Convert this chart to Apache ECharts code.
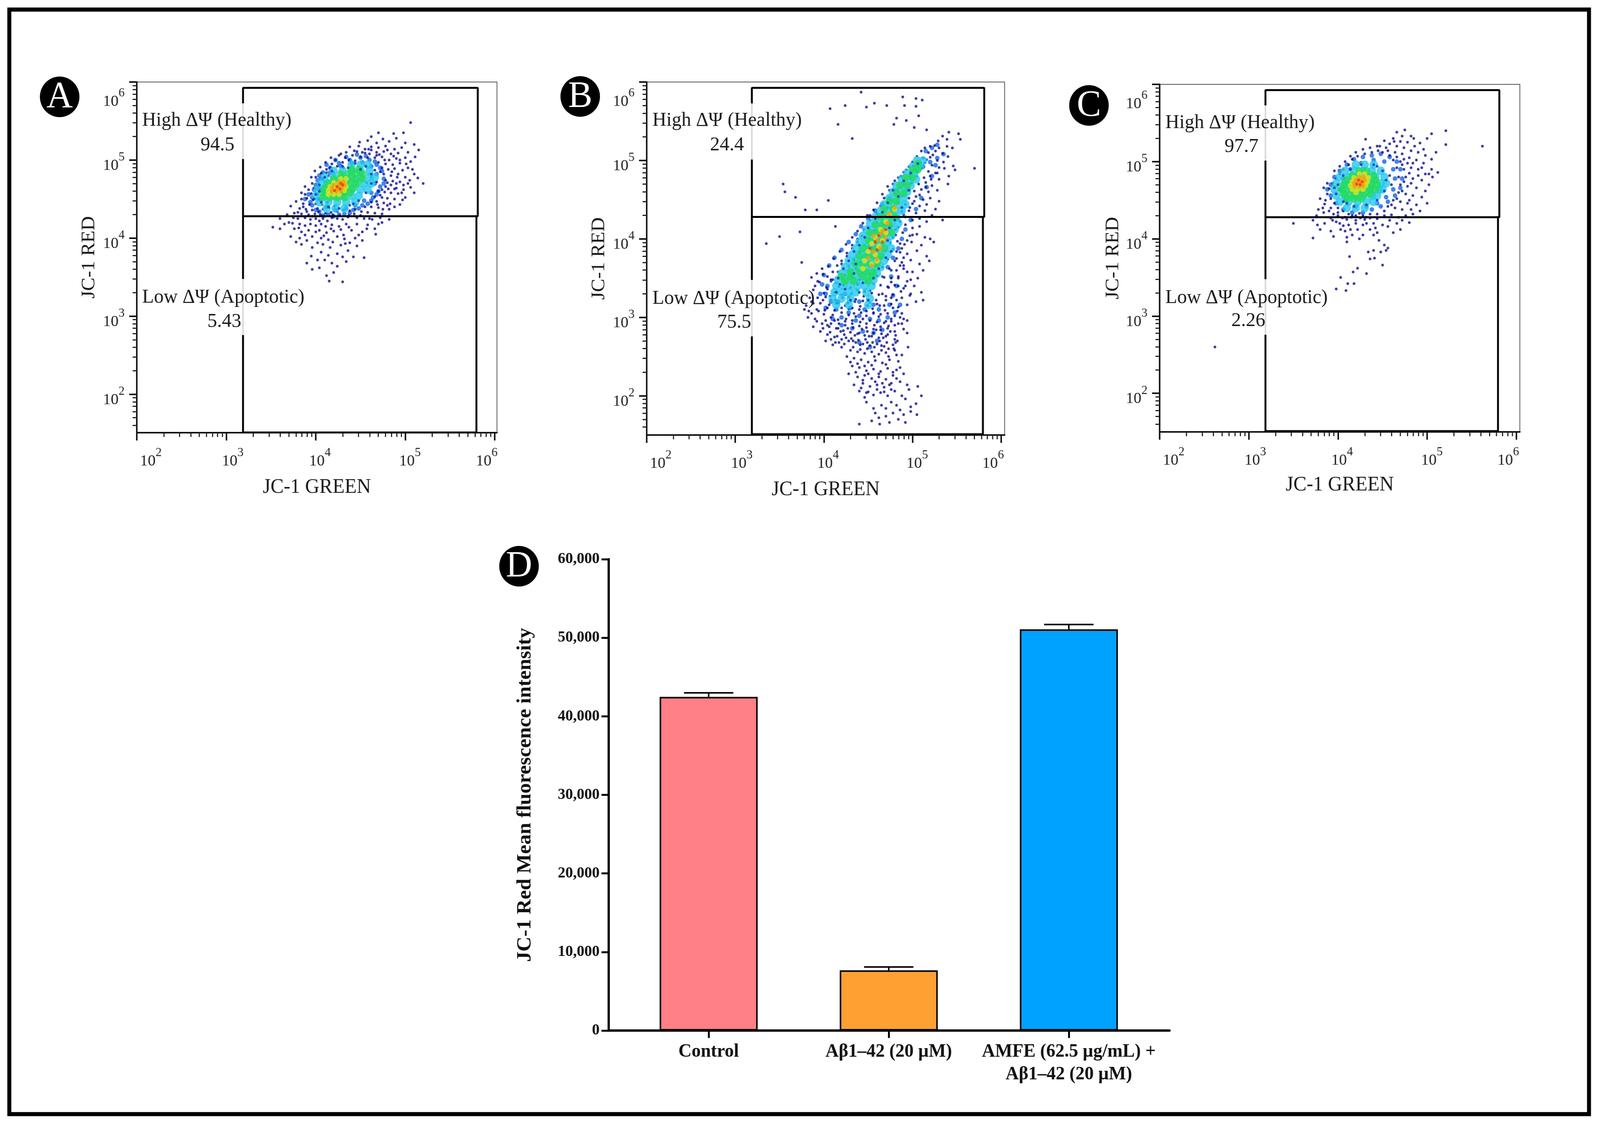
<!DOCTYPE html>
<html><head><meta charset="utf-8">
<style>html,body{margin:0;padding:0;background:#fff;overflow:hidden}#c{width:4211px;height:2886px;transform-origin:0 0}</style>
<script src="https://cdn.jsdelivr.net/npm/echarts@6/dist/echarts.min.js"></script>
</head><body><div id="c"></div>
<script>
// Flow-cytometry events: flat x,y pairs, in units of log10(intensity) x 100.
const aDark=[506,548,498,535,487,534,470,535,462,530,475,527,490,528,482,524,468,522,458,525,500,522,510,520,496,516,488,514,478,518,470,516,462,517,455,514,448,518,443,512,452,510,460,508,468,510,476,511,484,508,492,509,503,510,515,513,511,504,500,503,490,502,482,500,474,504,466,503,458,503,450,504,441,506,433,503,428,508,422,500,418,495,430,497,437,500,444,499,470,497,478,495,486,494,494,496,506,498,412,488,406,483,416,490,424,492,431,490,474,490,481,488,488,489,497,487,503,490,400,478,408,476,414,480,420,484,476,482,484,480,492,482,500,478,510,482,396,470,403,470,410,472,478,474,486,473,494,472,503,470,392,462,398,464,405,463,478,466,484,468,490,464,498,462,506,465,388,456,395,457,402,456,408,459,470,460,477,459,484,458,492,457,384,450,390,451,397,449,404,450,466,453,472,455,480,451,488,450,500,452,378,447,386,444,393,443,400,444,407,443,413,446,462,446,468,447,476,445,483,444,494,443,372,441,382,438,389,437,396,436,402,438,408,437,415,439,421,441,455,440,462,440,470,439,482,437,376,432,384,431,392,430,399,431,405,430,411,432,417,433,424,434,431,436,438,435,444,437,451,434,458,433,466,432,474,431,380,425,388,426,394,424,400,425,404,422,408,425,413,422,418,426,424,425,430,424,436,427,446,426,454,425,463,424,472,426,482,424,370,420,382,418,388,416,394,418,400,416,406,418,411,415,418,417,426,415,434,418,446,418,458,417,470,418,360,412,376,412,384,408,392,410,404,410,412,407,420,409,428,411,440,410,452,408,466,412,372,402,382,400,396,402,406,400,414,398,424,402,432,399,444,400,384,392,396,388,408,392,416,388,428,391,438,394,446,390,406,382,414,378,424,380,436,384,442,376,454,375,390,368,396,360,410,372,424,364,434,370,412,352,420,356,430,344,
395,478,388,466,384,458,399,486,405,491,411,497,417,503,426,506,434,510,446,511,455,509,462,513,471,507,480,513,487,505,494,500,501,495,508,488,514,477,505,474,498,468,491,478,485,485,477,500,468,506,459,514,449,523,438,517,480,471,474,462,468,472,472,485,466,487,462,478,457,471,490,470,496,458,488,463,481,463,474,452,469,443,475,437,488,440,497,449,510,458,520,470,480,442,460,425,450,429,443,431,437,429,427,429,419,430,410,428,403,434,396,428,390,434,386,440,380,433,375,426,368,430,360,425,365,418,352,414,374,419,381,413,388,404,400,408,409,403,417,412,431,404,437,414,448,404,457,412,474,420,467,405,378,395,390,397,402,394,419,395,433,393,452,397,395,377,402,372,418,368,430,376,404,362,415,345];
const aBlue=[398,462,402,474,408,484,416,490,426,496,438,500,450,503,460,500,468,494,474,486,476,476,472,466,468,456,462,448,452,442,442,436,432,431,420,428,408,429,400,436,394,446,392,456,412,440,422,436,434,438,444,442,454,448,462,458,466,470,468,482,462,492,452,497,440,496,428,492,416,484,406,476,402,464,403,450,396,452,400,468,404,480,412,494,422,500,434,504,446,507,456,505,466,498,472,490,476,470,470,460,464,452,458,444,448,438,438,432,426,430,414,430,404,434,396,442,388,450];
const aCyan=[440,494,450,494,458,494,420,486,430,486,440,486,450,486,460,486,410,478,420,478,430,478,440,478,450,478,460,478,466,478,406,470,414,470,424,470,434,470,444,470,454,470,462,470,402,462,410,462,420,462,430,462,440,462,450,462,458,462,400,454,410,454,420,454,430,454,440,454,448,454,404,446,414,446,424,446,434,446,444,446,412,438,422,438,432,438];
const aGreen=[440,488,448,488,428,482,436,482,444,482,452,482,420,476,428,476,436,476,444,476,452,476,414,470,422,470,430,470,438,470,446,470,410,464,418,464,426,464,434,464,442,464,408,458,416,458,424,458,432,458,438,458,408,452,416,452,424,452,432,452];
const aFleck=[400,456,404,468,410,478,418,486,430,492,444,496,456,492,462,482,462,470,456,458,448,448,438,442,426,438,414,440,406,446,398,450,436,490,450,488,404,460,442,444,412,484];
const aYellow=[428,476,434,476,420,471,426,471,432,471,416,466,422,466,428,466,434,466,414,461,420,461,426,461,432,461,414,456,420,456,426,456];
const aOrange=[426,472,431,472,420,468,426,468,432,468,418,464,424,464,429,464,418,460,423,460,428,460];
const aRed=[428,470,424,466,427,463,430,468,421,461];

const bDark=[442,587,407,566,424,570,448,568,457,573,471,570,489,581,504,579,511,577,491,570,504,569,507,557,482,554,493,551,479,546,416,546,502,542,516,539,432,528,354,470,356,460,368,453,405,449,379,437,392,437,373,409,350,403,335,394,413,416,375,370,386,351,570,490,546,493,541,480,554,527,541,536,552,534,539,527,534,531,529,525,525,519,520,518,514,516,539,518,545,516,510,512,518,510,526,512,534,509,540,505,505,505,512,503,520,504,528,500,535,498,500,498,507,496,514,497,522,494,530,491,548,488,496,492,503,488,510,490,518,486,526,484,490,485,497,482,505,480,513,478,520,480,530,476,540,470,484,478,491,474,499,471,507,470,515,472,522,468,478,470,486,466,494,462,502,461,510,463,518,460,528,462,474,462,480,458,488,455,496,452,504,454,512,450,520,452,530,448,468,452,476,449,484,446,492,444,500,445,508,442,516,444,526,438,464,442,472,440,480,437,488,435,496,436,504,433,514,436,522,430,460,432,468,430,476,427,484,425,492,428,500,424,508,426,516,422,534,424,452,424,460,421,468,419,476,417,484,415,492,418,500,414,508,416,450,414,457,411,465,409,473,407,481,405,489,408,497,404,505,406,514,402,524,396,443,404,451,401,459,399,467,397,475,395,483,397,491,393,499,396,510,392,520,400,438,396,446,392,454,390,462,387,470,385,478,387,486,383,494,381,505,385,516,378,432,388,440,383,448,380,456,378,464,376,472,374,480,372,488,370,498,373,508,368,519,372,426,378,434,374,442,371,450,368,458,366,466,364,474,362,482,360,490,362,500,358,512,360,420,368,428,365,436,362,444,358,452,356,460,353,468,351,476,350,484,352,494,346,506,350,416,358,424,354,432,351,440,348,448,346,456,343,464,341,472,339,480,341,490,337,502,340,510,332,408,348,414,344,422,341,430,338,438,335,446,333,454,331,462,329,470,327,478,329,488,325,497,328,512,322,404,336,412,332,420,329,428,326,436,323,444,321,452,319,460,317,468,315,476,317,484,313,494,316,402,326,408,322,416,318,424,315,432,312,440,310,448,308,456,306,464,304,472,305,480,302,488,305,396,318,404,312,412,309,420,306,428,303,436,301,444,298,452,296,460,294,468,293,476,295,484,292,494,296,392,310,400,304,408,300,416,297,424,295,432,292,440,289,448,287,456,285,464,284,472,286,480,282,490,285,390,298,398,292,406,288,414,286,422,283,430,281,438,279,446,277,454,276,462,274,470,276,480,272,396,282,404,278,412,275,420,272,428,270,436,268,444,266,452,264,460,266,468,263,478,265,402,270,410,265,420,262,430,258,438,256,446,254,454,256,462,253,470,255,480,258,488,252,426,250,434,248,442,246,450,243,458,245,466,242,474,246,484,244,432,238,440,236,448,232,456,234,464,231,472,235,482,233,428,228,438,224,446,226,454,222,462,224,470,221,478,226,490,228,434,214,444,216,452,212,460,214,468,211,476,216,486,218,448,204,456,201,464,204,472,200,480,206,496,208,506,212,504,190,492,196,476,192,465,188,456,184,446,198,440,206,478,178,486,182,498,180,505,176,462,172,470,174,454,168,440,164,463,164,484,170,492,166,
530,516,523,507,516,501,509,497,501,493,493,488,487,480,480,474,472,467,466,457,460,446,456,437,449,430,444,420,438,410,432,402,425,393,418,384,411,375,405,365,399,355,393,346,388,335,384,325,380,315,386,305,392,295,536,490,528,484,521,476,515,466,508,456,502,448,497,440,490,431,486,422,481,412,478,402,486,394,482,384,490,376,486,366,494,358,498,348,492,340,498,330,504,320,487,333,482,322,476,325,470,322,403,338,410,348,417,339,424,345,431,330,438,342,445,327,452,334,459,322,466,330,473,338,399,322,406,316,413,322,420,312,427,318,434,305,441,314,448,302,455,311,462,301,469,309,476,298,483,308,490,298,394,308,402,296,410,303,417,292,425,298,433,287,441,294,449,282,457,290,465,279,473,289,481,277,488,292,399,286,407,281,415,276,423,278,431,273,439,271,447,272,455,268,463,270,471,268,479,260,413,268,423,266,433,262,441,259,449,260,457,250,465,258,473,250,482,252,495,262,430,243,438,241,446,238,454,239,462,228,470,240,478,230,486,236,436,230,444,220,450,228,458,218,466,216,474,214,482,222,494,214,442,210,450,205,460,208,468,205,476,208,488,200,498,186,510,200,448,192,458,178,470,184,482,188,490,176,474,166,
395,345,390,340,400,331,407,327,414,318,421,325,428,311,435,320,442,306,449,315,456,305,463,315,470,295,478,312,486,300,393,325,388,318,383,308,401,309,408,292,416,286,424,290,432,296,440,280,448,292,456,280,464,288,472,278,480,290,494,280,404,290,412,296,419,282,427,286,435,277,443,285,451,276,459,284,467,274,475,282,483,270,408,272,417,268,425,274,433,270,441,265,449,268,457,262,465,264,473,260,481,268,476,345,484,350,490,366,482,375,488,388,494,398,500,405,476,360,484,340,398,362,404,352,392,356,410,358,415,366,420,372,426,382,432,392,438,400,445,412,452,430,386,320,382,300,378,310,388,288];
const bBlue=[528,520,522,516,515,512,535,508,528,503,520,498,512,492,505,486,498,478,490,470,482,462,474,452,466,444,458,436,450,426,442,416,436,406,428,396,420,386,412,376,406,366,400,354,398,342,402,330,408,320,414,310,428,306,440,302,452,298,462,296,472,300,480,306,486,316,478,328,482,340,476,352,472,364,478,376,484,388,488,400,492,412,498,424,504,438,510,452,516,466,522,480,526,494,410,298,420,290,432,286,444,282,456,280,466,284,440,268,452,262,460,270,424,330,440,320,456,316,416,320,430,312,446,310,462,310,474,316,404,340,396,330,402,312,420,300,436,296];
const bCyan=[505,500,512,500,500,492,508,492,494,484,502,484,488,476,496,476,504,476,482,468,490,468,498,468,478,460,486,460,494,460,474,452,482,452,490,452,468,444,476,444,484,444,492,444,464,436,472,436,480,436,488,436,458,428,466,428,474,428,482,428,452,420,460,420,468,420,476,420,484,420,448,412,456,412,464,412,472,412,480,412,444,404,452,404,460,404,468,404,476,404,440,396,448,396,456,396,464,396,472,396,436,388,444,388,452,388,460,388,468,388,476,388,432,380,440,380,448,380,456,380,464,380,472,380,428,372,436,372,444,372,452,372,460,372,468,372,424,364,432,364,440,364,448,364,456,364,464,364,420,356,428,356,436,356,444,356,452,356,460,356,416,348,424,348,432,348,440,348,448,348,456,348,414,340,422,340,430,340,438,340,446,340,454,340,412,332,420,332,428,332,436,332,448,332,410,324,420,324,430,324,452,324,414,316,428,316,450,316];
const bGreen=[506,496,500,488,506,488,492,478,500,478,486,468,494,468,482,458,490,458,474,448,482,448,468,438,478,438,464,428,472,428,480,428,458,418,466,418,474,418,452,408,460,408,468,408,476,408,450,398,458,398,466,398,444,388,452,388,460,388,468,388,440,378,448,378,456,378,464,378,436,368,444,368,452,368,460,368,430,358,440,358,448,358,456,358,420,352,430,352,444,352,454,352,424,346,434,346,450,346];
const bFleck=[506,496,498,484,490,474,496,462,484,454,478,462,472,446,488,440,466,434,480,424,458,426,474,414,450,414,446,402,472,398,440,392,476,384,434,384,470,376,428,372,462,362,422,362,456,350,416,350,444,344,434,356,424,336,414,332,440,332,430,322,450,322,408,346,466,352,418,342,436,368];
const bYellow=[480,438,474,430,470,422,464,412,470,408,458,402,466,398,454,394,462,390,450,384,458,380,446,372,454,368,460,372,444,362];
const bOrange=[480,440,474,432,472,420,466,410,470,402,460,398,464,388,456,384,460,374,450,376,454,366,456,404,464,406];
const bRed=[462,404,458,396,466,396,452,388,460,386,470,412];

const cDark=[262,260,562,520,521,540,521,522,505,536,500,530,492,524,482,533,475,541,472,533,466,538,462,530,470,526,478,525,486,520,496,516,510,512,505,503,498,508,490,512,482,514,474,518,466,520,458,523,452,527,447,520,431,529,456,514,464,512,472,510,480,505,488,502,496,498,505,490,512,486,445,514,438,512,430,510,422,507,416,503,412,496,406,490,402,484,398,478,394,472,390,465,388,458,392,452,396,446,400,440,406,436,412,432,420,430,428,430,436,432,478,498,470,500,474,490,482,492,490,490,498,484,506,480,476,480,484,478,494,476,502,470,470,470,478,468,488,466,498,462,468,460,476,458,484,456,494,454,462,450,470,448,478,446,488,444,500,446,456,442,464,440,472,438,482,438,492,436,380,452,385,445,378,438,384,434,390,436,395,432,400,430,405,427,410,425,415,428,420,424,425,427,430,425,436,427,444,426,452,430,460,431,468,428,476,430,484,432,377,418,385,420,394,424,402,420,412,418,420,420,428,418,440,420,450,418,458,424,466,420,472,424,480,421,372,401,350,420,392,410,403,412,410,402,416,405,424,400,436,412,440,405,446,398,452,392,456,388,410,396,413,377,422,362,417,357,403,350,432,355,411,342,418,342,398,335,409,333,450,366,454,385,448,383,440,385,434,383,436,374,441,375,
396,488,388,472,384,466,402,494,408,500,414,507,420,512,428,516,436,518,444,520,450,512,458,508,466,506,474,503,484,498,494,492,502,484,490,482,480,485,472,496,462,502,454,518,463,526,485,530,468,480,460,470,458,482,466,492,474,474,482,472,472,462,480,450,466,452,460,444,452,436,444,432,432,428,424,433,416,430,408,428,400,434,392,440,386,450,383,440,376,430,372,424,392,427,398,422,406,417,414,412,422,412,432,420,442,414,456,416,470,412,380,412,395,403,408,410,428,405,444,408,462,408];
const cBlue=[392,470,396,480,402,488,410,496,418,503,428,506,438,508,448,510,458,506,466,500,470,490,472,478,470,466,464,456,456,448,448,442,438,438,428,434,416,434,406,438,398,446,392,456,388,464,408,450,420,442,432,442,444,446,454,454,462,464,464,478,462,490,452,500,440,502,426,498,414,490,406,478,402,464];
const cCyan=[420,496,430,496,440,496,408,488,418,488,428,488,438,488,448,488,402,480,412,480,422,480,432,480,442,480,452,480,398,472,408,472,418,472,428,472,438,472,448,472,454,472,396,464,406,464,416,464,426,464,436,464,446,464,450,464,398,456,408,456,418,456,428,456,438,456,444,456,402,448,412,448,422,448,432,448,440,448,410,440,420,440,430,440];
const cGreen=[424,488,432,488,416,482,424,482,432,482,440,482,410,476,418,476,426,476,434,476,442,476,406,470,414,470,422,470,430,470,438,470,444,470,404,464,412,464,420,464,428,464,436,464,442,464,406,458,414,458,422,458,430,458,436,458,410,452,418,452,426,452];
const cFleck=[398,458,400,470,406,482,414,490,426,496,440,496,450,488,454,476,452,462,444,450,432,444,418,442,406,448,444,494,410,446,396,466];
const cYellow=[424,484,430,484,418,479,424,479,430,479,434,479,416,474,422,474,428,474,433,474,414,469,420,469,426,469,431,469,416,464,422,464,428,464,420,460];
const cOrange=[424,480,429,480,420,476,425,476,430,476,418,472,423,472,428,472,419,468,424,468,428,468];
const cRed=[423,476,427,474,421,471,425,470];

// Gate polylines, in log10(intensity) units; the left edge has four pieces around the two label panels.
const gateBlack=[
  [[3.187,5.74],[3.187,5.925],[5.81,5.925],[5.81,4.28],[3.187,4.28],[3.187,5.0]],
  [[3.187,3.49],[3.187,4.28]],
  [[3.187,1.51],[3.187,2.745]],
  [[3.187,1.51],[5.795,1.51],[5.795,4.28]]
];
const gateFaint=[[[3.187,5.0],[3.187,5.74]],[[3.187,2.745],[3.187,3.49]]];
const decades=[2,3,4,5,6];
const minorMultipliers=[2,3,4,5,6,7,8,9];
const highLabel='High ΔΨ (Healthy)', lowLabel='Low ΔΨ (Apoptotic)';
const panelLetters=['A','B','C','D'];
const highValues=['94.5','24.4','97.7'];
const lowValues=['5.43','75.5','2.26'];
const xAxisTitle='JC-1 GREEN', yAxisTitle='JC-1 RED';

// Bar chart
const barCategories=['Control','Aβ1–42 (20 µM)','AMFE (62.5 µg/mL) +\nAβ1–42 (20 µM)'];
const barValues=[42480,7670,51080];
const barErrorTops=[42990,8090,51680];
const barColors=['#ff8086','#ffa033','#00a2ff'];
const barTitle='JC-1 Red Mean fluorescence intensity';

const SERIF='"Liberation Serif","Times New Roman",serif';
const layout=[
 {l:360,r:1308,t:210,b:1108,xMax:6.025,yMin:1.507,g:114,yg:100,cx:157,cy:248,
  hx:374,hy:309,hvx:617,hvy:372,lx:374,ly:762,lvx:635,lvy:824},
 {l:1702,r:2644,t:210,b:1114,xMax:6.04,yMin:1.5,g:114,yg:100,cx:1527,cy:247,
  hx:1717,hy:309,hvx:1958,hvy:372,lx:1717,ly:765,lvx:1977,lvy:826},
 {l:3052,r:4000,t:216,b:1106,xMax:6.04,yMin:1.5,g:110,yg:97,cx:2866,cy:270,
  hx:3067,hy:315,hvx:3312,hvy:376,lx:3067,ly:763,lvx:3330,lvy:822}
];
const layers=[
 {k:'Blue',c:'#1166e6',s:12},{k:'Dark',c:'#0b0b8c',s:7},{k:'Cyan',c:'#22c8ee',s:22},
 {k:'Green',c:'#22dc58',s:20},{k:'Fleck',c:'#1030b0',s:7},{k:'Yellow',c:'#e4e21e',s:14},{k:'Orange',c:'#f89a12',s:11},{k:'Red',c:'#ee3a10',s:8}
];
const panelData=[
 {Dark:aDark,Blue:aBlue,Cyan:aCyan,Green:aGreen,Fleck:aFleck,Yellow:aYellow,Orange:aOrange,Red:aRed},
 {Dark:bDark,Blue:bBlue,Cyan:bCyan,Green:bGreen,Fleck:bFleck,Yellow:bYellow,Orange:bOrange,Red:bRed},
 {Dark:cDark,Blue:cBlue,Cyan:cCyan,Green:cGreen,Fleck:cFleck,Yellow:cYellow,Orange:cOrange,Red:cRed}
];
const toPairs=a=>{const o=[];for(let i=0;i<a.length;i+=2)o.push([a[i]/100,a[i+1]/100]);return o;};
const minorTicks=lo=>{const o=[];[1,2,3,4,5].forEach(d=>minorMultipliers.forEach(m=>{const v=d+Math.log10(m);if(v>=lo)o.push(v);}));return o;};

// spacer tokens shift the staggered decade labels off their ticks, as in the original
const tickBase={fontFamily:SERIF,color:'#222'};
const tickRich={b:{...tickBase,fontSize:41,lineHeight:58,verticalAlign:'bottom'},
  s:{...tickBase,fontSize:32,lineHeight:32,verticalAlign:'top'},
  p2:{width:74},p3:{width:34},p4:{width:22},p5:{width:25},q6:{width:42},
  s6:{...tickBase,fontSize:32,lineHeight:32,verticalAlign:'top',padding:[84,0,0,0]},
  h6:{width:0,lineHeight:142},
  b6:{...tickBase,fontSize:41,lineHeight:58,verticalAlign:'bottom'},
  sy:{...tickBase,fontSize:32,lineHeight:32,verticalAlign:'top',padding:[12,0,0,0]},
  hy:{width:0,lineHeight:70}};
const xFmt=v=>{const d=Math.round(v);return d===6?`{b|10}{s|6}{q6|}`:`{p${d}|}{b|10}{s|${d}}`;};
const yFmt=v=>{const d=Math.round(v);return d===6?`{h6|}{b6|10}{s6|6}`:`{hy|}{b|10}{sy|${d}}`;};

const grid=[],xAxis=[],yAxis=[],series=[],graphic=[];
graphic.push({type:'rect',z:0,shape:{x:24.5,y:24.5,width:4157.5,height:2828.5},style:{fill:'none',stroke:'#000',lineWidth:10.5}});

layout.forEach((p,i)=>{
  grid.push({left:p.l,top:p.t,width:p.r-p.l,height:p.b-p.t,show:true,borderColor:'#555',borderWidth:2,backgroundColor:'transparent'});
  const ix=xAxis.length,iy=yAxis.length;
  const common={type:'value',gridIndex:i,splitLine:{show:false},scale:true};
  xAxis.push({...common,position:'bottom',min:2,max:p.xMax,
    axisLine:{show:true,lineStyle:{color:'#111',width:4}},
    axisTick:{show:true,length:20,lineStyle:{color:'#111',width:4},customValues:decades},
    axisLabel:{show:true,margin:36,customValues:decades,formatter:xFmt,rich:tickRich,hideOverlap:false},
    name:xAxisTitle,nameLocation:'middle',nameGap:p.g,nameTextStyle:{fontFamily:SERIF,fontSize:52,color:'#1a1a1a'}});
  xAxis.push({...common,position:'bottom',min:2,max:p.xMax,axisLine:{show:false},axisLabel:{show:false},
    axisTick:{show:true,length:11,lineStyle:{color:'#222',width:3},customValues:minorTicks(2)}});
  yAxis.push({...common,position:'left',min:p.yMin,max:6,
    axisLine:{show:true,lineStyle:{color:'#111',width:4}},
    axisTick:{show:true,length:20,lineStyle:{color:'#111',width:4},customValues:decades},
    axisLabel:{show:true,margin:32,customValues:decades,formatter:yFmt,rich:tickRich,hideOverlap:false},
    name:yAxisTitle,nameLocation:'middle',nameGap:p.yg,nameRotate:90,nameTextStyle:{fontFamily:SERIF,fontSize:51,color:'#1a1a1a'}});
  yAxis.push({...common,position:'left',min:p.yMin,max:6,axisLine:{show:false},axisLabel:{show:false},
    axisTick:{show:true,length:11,lineStyle:{color:'#222',width:3},customValues:minorTicks(p.yMin)}});
  layers.forEach(L=>{
    series.push({type:'scatter',name:panelLetters[i]+' '+L.k,xAxisIndex:ix,yAxisIndex:iy,silent:true,z:3,
      symbolSize:L.s,itemStyle:{color:L.c},data:toPairs(panelData[i][L.k])});
  });
  gateBlack.forEach(g=>series.push({type:'line',xAxisIndex:ix,yAxisIndex:iy,silent:true,z:5,symbol:'none',
    lineStyle:{color:'#000',width:5,cap:'square'},data:g}));
  gateFaint.forEach(g=>series.push({type:'line',xAxisIndex:ix,yAxisIndex:iy,silent:true,z:4,symbol:'none',
    lineStyle:{color:'#d8d8d8',width:4},data:g}));
  const t=(text,x,y,align)=>graphic.push({type:'text',z:10,x,y,style:{text,font:`51px ${SERIF}`,fill:'#1a1a1a',textAlign:align,textVerticalAlign:'middle'}});
  t(highLabel,p.hx,p.hy,'left'); t(highValues[i],p.hvx,p.hvy,'right');
  t(lowLabel,p.lx,p.ly,'left');  t(lowValues[i],p.lvx,p.lvy,'right');
  graphic.push({type:'circle',z:10,shape:{cx:p.cx,cy:p.cy,r:52},style:{fill:'#000'}});
  graphic.push({type:'text',z:11,x:p.cx,y:p.cy+2,style:{text:panelLetters[i],font:`96px ${SERIF}`,fill:'#fff',textAlign:'center',textVerticalAlign:'middle'}});
});

// Panel D
const gi=grid.length, dx=xAxis.length, dy=yAxis.length;
grid.push({left:1602,top:1432,width:1476,height:1207,show:false});
xAxis.push({type:'value',gridIndex:gi,position:'bottom',min:-0.555,max:2.559,splitLine:{show:false},
  axisLine:{show:true,lineStyle:{color:'#000',width:6},onZero:false},
  axisTick:{show:true,length:19,lineStyle:{color:'#000',width:5},customValues:[0,1,2]},
  axisLabel:{show:true,margin:26,customValues:[0,1,2],formatter:v=>barCategories[Math.round(v)],
    fontFamily:SERIF,fontWeight:'bold',fontSize:48,lineHeight:58,color:'#111',hideOverlap:false,verticalAlign:'top'}});
yAxis.push({type:'value',gridIndex:gi,position:'left',min:0,max:60000,interval:10000,splitLine:{show:false},
  axisLine:{show:true,onZero:false,lineStyle:{color:'#000',width:6}},
  axisTick:{show:true,length:19,lineStyle:{color:'#000',width:5}},
  axisLabel:{show:true,margin:24,formatter:v=>v===0?'0':v.toLocaleString('en-US'),fontFamily:SERIF,fontWeight:'bold',fontSize:40,color:'#111'},
  name:barTitle,nameLocation:'middle',nameGap:193,nameRotate:90,
  nameTextStyle:{fontFamily:SERIF,fontWeight:'bold',fontSize:53,color:'#111'}});
series.push({type:'bar',xAxisIndex:dx,yAxisIndex:dy,barWidth:258,silent:true,z:3,
  data:barValues.map((v,i)=>({value:[i,v],itemStyle:{color:barColors[i],borderColor:'#000',borderWidth:4}}))});
series.push({type:'custom',xAxisIndex:dx,yAxisIndex:dy,silent:true,z:4,
  data:barValues.map((v,i)=>[i,v,barErrorTops[i]]),
  renderItem:(params,api)=>{
    const a=api.coord([api.value(0),api.value(1)]),b=api.coord([api.value(0),api.value(2)]);
    const ln=(x1,y1,x2,y2)=>({type:'line',shape:{x1,y1,x2,y2},style:{stroke:'#000',lineWidth:4,fill:null}});
    return {type:'group',children:[ln(a[0],a[1],b[0],b[1]),ln(b[0]-65,b[1],b[0]+65,b[1])]};
  }});
graphic.push({type:'circle',z:10,shape:{cx:1366,cy:1450,r:52},style:{fill:'#000'}});
graphic.push({type:'text',z:11,x:1366,y:1452,style:{text:'D',font:`96px ${SERIF}`,fill:'#fff',textAlign:'center',textVerticalAlign:'middle'}});

// The browser window may be narrower than the 4211px drawing: fit the drawing to its width.
const el=document.getElementById('c');
if(window.innerWidth<4211) el.style.transform=`scaleX(${window.innerWidth/4211})`;
const chart=echarts.init(el,null,{renderer:'canvas',width:4211,height:2886,devicePixelRatio:1});
chart.setOption({animation:false,backgroundColor:'#fff',tooltip:{show:false},grid,xAxis,yAxis,series,graphic});
</script></body></html>
